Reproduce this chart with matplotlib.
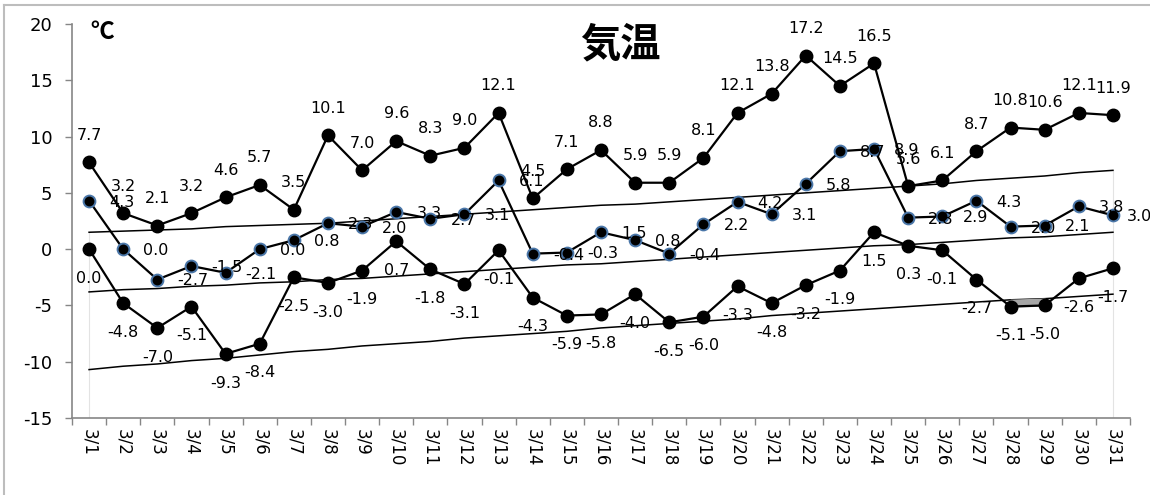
import numpy as np
import matplotlib.pyplot as plt
from matplotlib.lines import Line2D

days = [f"3/{d}" for d in range(1, 32)]

t_max = [7.7, 3.2, 2.1, 3.2, 4.6, 5.7, 3.5, 10.1, 7.0, 9.6, 8.3, 9.0, 12.1, 4.5, 7.1, 8.8,
         5.9, 5.9, 8.1, 12.1, 13.8, 17.2, 14.5, 16.5, 5.6, 6.1, 8.7, 10.8, 10.6, 12.1, 11.9]
t_mean = [4.3, 0.0, -2.7, -1.5, -2.1, 0.0, 0.8, 2.3, 2.0, 3.3, 2.7, 3.1, 6.1, -0.4, -0.3, 1.5,
          0.8, -0.4, 2.2, 4.2, 3.1, 5.8, 8.7, 8.9, 2.8, 2.9, 4.3, 2.0, 2.1, 3.8, 3.0]
t_min = [0.0, -4.8, -7.0, -5.1, -9.3, -8.4, -2.5, -3.0, -1.9, 0.7, -1.8, -3.1, -0.1, -4.3, -5.9, -5.8,
         -4.0, -6.5, -6.0, -3.3, -4.8, -3.2, -1.9, 1.5, 0.3, -0.1, -2.7, -5.1, -5.0, -2.6, -1.7]

# normals
nrm_max = [1.5, 1.6, 1.7, 1.8, 2.0, 2.1, 2.2, 2.3, 2.5, 2.7, 2.9, 3.1, 3.3, 3.5, 3.7, 3.9,
           4.0, 4.2, 4.4, 4.6, 4.8, 5.0, 5.2, 5.4, 5.6, 5.8, 6.1, 6.3, 6.5, 6.8, 7.0]
nrm_mean = [-3.8, -3.6, -3.5, -3.3, -3.2, -3.0, -2.9, -2.7, -2.6, -2.4, -2.2, -2.0, -1.8, -1.6, -1.4, -1.3,
            -1.1, -0.9, -0.7, -0.5, -0.3, -0.1, 0.1, 0.3, 0.4, 0.6, 0.8, 1.0, 1.1, 1.3, 1.5]
nrm_min = [-10.7, -10.4, -10.2, -9.9, -9.7, -9.4, -9.1, -8.9, -8.6, -8.4, -8.2, -7.9, -7.7, -7.5, -7.3, -7.0,
           -6.8, -6.6, -6.4, -6.2, -5.9, -5.7, -5.5, -5.3, -5.1, -4.9, -4.7, -4.5, -4.4, -4.2, -4.0]

plt.rcParams["font.family"] = ["DejaVu Sans"]
plt.rcParams["axes.unicode_minus"] = False

fig = plt.figure(figsize=(11.5, 4.95), dpi=100)
ax = fig.add_axes([72 / 1150, 1 - 418 / 495, (1130 - 72) / 1150, (418 - 24) / 495])

x = np.arange(len(days))
gray = "#868686"

# light drop lines at the ends
ax.plot([0, 0], [-15, nrm_max[0]], color="#e3e3e3", lw=0.8, zorder=1)
ax.plot([30, 30], [-15, nrm_max[-1]], color="#e3e3e3", lw=0.8, zorder=1)

for n in (nrm_max, nrm_mean, nrm_min):
    ax.plot(x, n, color="black", lw=1.1, zorder=2)

lo = np.array(t_min)
nl = np.array(nrm_min)
ax.fill_between(x, lo, nl, where=lo < nl, color="#a6a6a6", zorder=2)

ax.plot(x, t_max, color="black", lw=1.6, marker="o", ms=9, zorder=4)
ax.plot(x, t_min, color="black", lw=1.6, marker="o", ms=9, zorder=4)
ax.plot(x, t_mean, color="black", lw=1.6, marker="o", ms=8.5, mfc="black",
        mec="#4a76a8", mew=1.4, zorder=5)

lab_kw = dict(textcoords="offset points", fontsize=11.5, color="black", zorder=6)
for i in x:
    ax.annotate(f"{t_max[i]:.1f}", (i, t_max[i]), xytext=(0, 19.5), ha="center", va="center", **lab_kw)
    ax.annotate(f"{t_min[i]:.1f}", (i, t_min[i]), xytext=(0, -21), ha="center", va="center", **lab_kw)
    dx = 10 if i == len(days) - 1 else 14.5
    ax.annotate(f"{t_mean[i]:.1f}", (i, t_mean[i]), xytext=(dx, -1), ha="left", va="center", **lab_kw)

ax.set_xlim(-0.5, 30.5)
ax.set_ylim(-15, 20)
ax.set_yticks(range(-15, 21, 5))
ax.set_xticks(x)
ax.set_xticklabels(days, rotation=270, fontsize=12)
ax.set_xticks(np.arange(-0.5, 31, 1), minor=True)
ax.tick_params(axis="x", which="major", length=0, pad=8)
ax.tick_params(axis="x", which="minor", length=5, color=gray, width=1)
ax.tick_params(axis="y", length=5, color=gray, width=1, labelsize=13, pad=9)
for s in ("top", "right"):
    ax.spines[s].set_visible(False)
for s in ("left", "bottom"):
    ax.spines[s].set_color(gray)
    ax.spines[s].set_linewidth(1.2)

fig.text(620 / 1150, 1 - 45 / 495, "気温", fontsize=29, fontweight="bold",
         family=["Noto Sans CJK JP"], ha="center", va="center")
fig.text(90 / 1150, 1 - 32 / 495, "℃", fontsize=17, fontweight="bold",
         family=["Noto Sans CJK JP"], ha="left", va="center")

# outer chart frame (only top and left edges show)
fig.add_artist(Line2D([4 / 1150, 4 / 1150], [0, 1 - 5 / 495], transform=fig.transFigure, color="#bdbdbd", lw=1.5))
fig.add_artist(Line2D([4 / 1150, 1], [1 - 5 / 495, 1 - 5 / 495], transform=fig.transFigure, color="#bdbdbd", lw=1.5))

fig.savefig("out.png", dpi=100)
